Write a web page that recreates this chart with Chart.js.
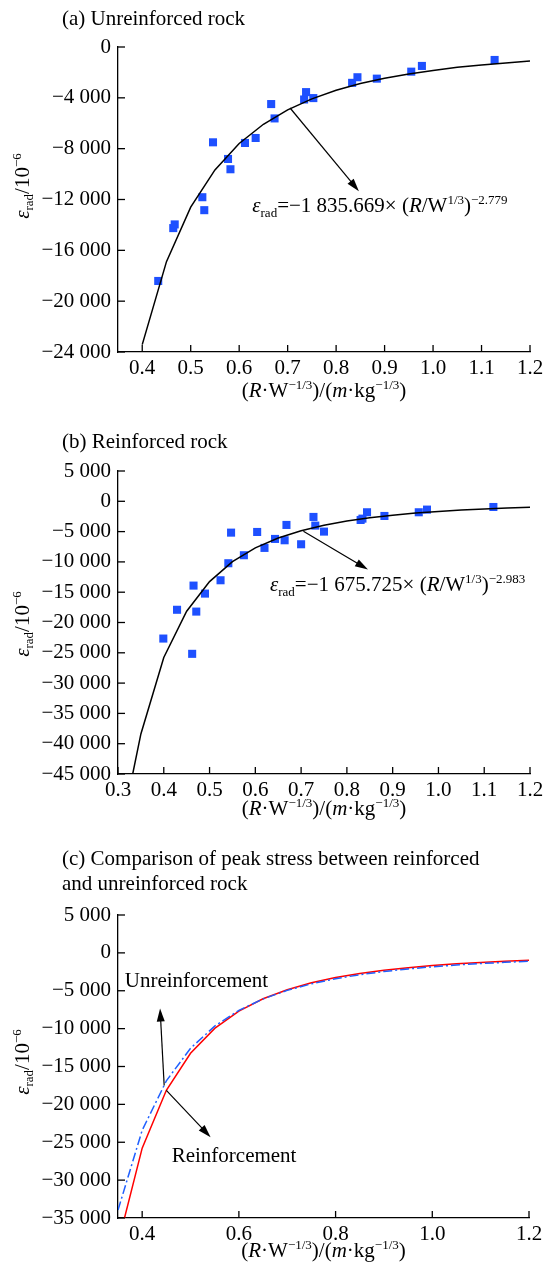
<!DOCTYPE html>
<html>
<head>
<meta charset="utf-8">
<script src="https://cdn.jsdelivr.net/npm/chart.js@4.4.0/dist/chart.umd.min.js"></script>
<style>
body { margin: 0; background: #fff; }
#marco { position: relative; width: 549px; height: 1271px; }
canvas { position: absolute; left: 0; }
</style>
</head>
<body>
<div id="marco">
<canvas id="grafica_a" width="549" height="410" style="top:0px"></canvas>
<canvas id="grafica_b" width="549" height="410" style="top:410px"></canvas>
<canvas id="grafica_c" width="549" height="451" style="top:820px"></canvas>
</div>
<script>
// (a) unreinforced rock, measured points
var sinRefX = [0.433, 0.464, 0.467, 0.524, 0.528, 0.546, 0.577, 0.582, 0.612, 0.634, 0.666, 0.673, 0.734, 0.738, 0.753, 0.833, 0.844, 0.884, 0.955, 0.977, 1.127];
var sinRefY = [-18410, -14250, -13960, -11820, -12840, -7500, -8810, -9620, -7550, -7160, -4490, -5620, -4130, -3550, -4020, -2820, -2380, -2490, -1940, -1490, -1020];
// (a) fitted curve
var ajusteAX = [0.40, 0.45, 0.50, 0.55, 0.60, 0.65, 0.70, 0.75, 0.80, 0.85, 0.90, 0.95, 1.00, 1.05, 1.10, 1.15, 1.20];
var ajusteAY = [-23420, -16890, -12600, -9670, -7590, -6080, -4950, -4080, -3410, -2880, -2460, -2120, -1840, -1600, -1410, -1250, -1110];

// (b) reinforced rock, measured points
var conRefX = [0.399, 0.429, 0.462, 0.465, 0.471, 0.490, 0.524, 0.541, 0.547, 0.575, 0.604, 0.620, 0.643, 0.664, 0.668, 0.700, 0.727, 0.731, 0.750, 0.830, 0.834, 0.844, 0.882, 0.957, 0.975, 1.120];
var conRefY = [-22650, -17900, -25170, -13910, -18200, -15230, -13030, -10220, -5170, -8900, -5060, -7690, -6210, -6430, -3900, -7090, -2580, -4010, -5000, -3080, -2860, -1810, -2420, -1810, -1370, -940];
// (b) fitted curve
var ajusteBX = [0.33, 0.35, 0.40, 0.45, 0.50, 0.55, 0.60, 0.65, 0.70, 0.75, 0.80, 0.85, 0.90, 0.95, 1.00, 1.05, 1.10, 1.15, 1.20];
var ajusteBY = [-45770, -38390, -25780, -18140, -13250, -9970, -7690, -6060, -4860, -3950, -3260, -2720, -2300, -1950, -1680, -1450, -1260, -1110, -970];

// (c) comparison curves
var compX = [0.35, 0.40, 0.45, 0.50, 0.55, 0.60, 0.65, 0.70, 0.75, 0.80, 0.85, 0.90, 0.95, 1.00, 1.05, 1.10, 1.15, 1.20];
var compSinRef = [-33960, -23420, -16890, -12600, -9670, -7590, -6080, -4950, -4080, -3410, -2880, -2460, -2120, -1840, -1600, -1410, -1250, -1110];
var compConRef = [-38390, -25780, -18140, -13250, -9970, -7690, -6060, -4860, -3950, -3260, -2720, -2300, -1950, -1680, -1450, -1260, -1110, -970];

// tick labels
var ticksAX = [0.4, 0.5, 0.6, 0.7, 0.8, 0.9, 1.0, 1.1, 1.2];
var ticksAY = [0, -4000, -8000, -12000, -16000, -20000, -24000];
var ticksBX = [0.3, 0.4, 0.5, 0.6, 0.7, 0.8, 0.9, 1.0, 1.1, 1.2];
var ticksBY = [5000, 0, -5000, -10000, -15000, -20000, -25000, -30000, -35000, -40000, -45000];
var ticksCX = [0.4, 0.6, 0.8, 1.0, 1.2];
var ticksCY = [5000, 0, -5000, -10000, -15000, -20000, -25000, -30000, -35000];

var fuente = '"Liberation Serif", "Times New Roman", serif';
var azul = '#1e50ff';

var tituloX = [['('], ['R', 'i'], ['\u00b7W'], ['\u22121/3', 'sup'], [')/('], ['m', 'i'], ['\u00b7kg'], ['\u22121/3', 'sup'], [')']];
var tituloY = [['\u03b5', 'i'], ['rad', 'sub'], ['/10'], ['\u22126', 'sup']];

function puntos(xs, ys) {
    var res = [];
    for (var i = 0; i < xs.length; i++) {
        res.push({ x: xs[i], y: ys[i] });
    }
    return res;
}

function formato_miles(v) {
    var s = Math.abs(v).toString().replace(/\B(?=(\d{3})+(?!\d))/g, ' ');
    return (v < 0 ? '\u2212' : '') + s;
}

// draws text made of runs: normal, italic, superscript, subscript
function texto_rico(ctx, partes, x, y, size, centrado) {
    var piezas = partes.map(function (p) {
        var estilo = p[1] || '';
        var chico = estilo === 'sup' || estilo === 'sub';
        var f = (estilo === 'i' ? 'italic ' : '') + (chico ? Math.round(size * 0.62) : size) + 'px ' + fuente;
        ctx.font = f;
        return {
            t: p[0], f: f, w: ctx.measureText(p[0]).width,
            dy: estilo === 'sup' ? -size * 0.38 : (estilo === 'sub' ? size * 0.22 : 0)
        };
    });
    var total = 0;
    piezas.forEach(function (p) { total += p.w; });
    var cx = centrado ? x - total / 2 : x;
    ctx.textAlign = 'left';
    ctx.textBaseline = 'alphabetic';
    ctx.fillStyle = '#000';
    piezas.forEach(function (p) {
        ctx.font = p.f;
        ctx.fillText(p.t, cx, y + p.dy);
        cx += p.w;
    });
}

function flecha(ctx, x1, y1, x2, y2) {
    var ang = Math.atan2(y2 - y1, x2 - x1);
    var largo = 13, ancho = 4;
    ctx.beginPath();
    ctx.moveTo(x1, y1);
    ctx.lineTo(x2 - Math.cos(ang) * largo * 0.8, y2 - Math.sin(ang) * largo * 0.8);
    ctx.stroke();
    ctx.beginPath();
    ctx.moveTo(x2, y2);
    ctx.lineTo(x2 - Math.cos(ang) * largo + Math.sin(ang) * ancho, y2 - Math.sin(ang) * largo - Math.cos(ang) * ancho);
    ctx.lineTo(x2 - Math.cos(ang) * largo - Math.sin(ang) * ancho, y2 - Math.sin(ang) * largo + Math.cos(ang) * ancho);
    ctx.closePath();
    ctx.fill();
}

function crear_plugin(cfg) {
    return {
        id: 'extras',
        afterDraw: function (chart) {
            var ctx = chart.ctx;
            var area = chart.chartArea;
            var sx = chart.scales.x, sy = chart.scales.y;
            ctx.save();
            ctx.strokeStyle = '#000';
            ctx.fillStyle = '#000';
            ctx.lineWidth = 1.3;
            // ticks pointing inside
            sx.ticks.forEach(function (t) {
                var px = sx.getPixelForValue(t.value);
                ctx.beginPath();
                ctx.moveTo(px, area.bottom);
                ctx.lineTo(px, area.bottom - 7);
                ctx.stroke();
            });
            sy.ticks.forEach(function (t) {
                var py = sy.getPixelForValue(t.value);
                ctx.beginPath();
                ctx.moveTo(area.left, py);
                ctx.lineTo(area.left + 7, py);
                ctx.stroke();
            });
            cfg.titulo.forEach(function (l) {
                texto_rico(ctx, [[l[0]]], 62, l[1], 21, false);
            });
            texto_rico(ctx, tituloX, (area.left + area.right) / 2, cfg.bajoX, 21, true);
            ctx.save();
            ctx.translate(28.5, cfg.centroY);
            ctx.rotate(-Math.PI / 2);
            texto_rico(ctx, tituloY, 0, 0, 21, true);
            ctx.restore();
            cfg.notas.forEach(function (n) {
                texto_rico(ctx, n.partes, sx.getPixelForValue(n.x), sy.getPixelForValue(n.y), 21, false);
            });
            ctx.lineWidth = 1.2;
            cfg.flechas.forEach(function (f) {
                flecha(ctx, sx.getPixelForValue(f[0]), sy.getPixelForValue(f[1]), sx.getPixelForValue(f[2]), sy.getPixelForValue(f[3]));
            });
            ctx.restore();
        }
    };
}

function crear_panel(id, cfg) {
    var ejeTicks = { color: '#000', font: { family: fuente, size: 21 }, autoSkip: false, maxRotation: 0 };
    return new Chart(document.getElementById(id), {
        type: 'scatter',
        data: { datasets: cfg.datasets },
        options: {
            responsive: false,
            animation: false,
            layout: { padding: { top: cfg.arriba, right: cfg.derecha, left: 0, bottom: 0 } },
            plugins: { legend: { display: false }, tooltip: { enabled: false } },
            scales: {
                x: {
                    type: 'linear', min: cfg.xMin, max: cfg.xMax,
                    afterBuildTicks: function (s) { s.ticks = cfg.ticksX.map(function (v) { return { value: v }; }); },
                    afterFit: function (s) { s.height = cfg.altoX; },
                    grid: { display: false, drawTicks: false },
                    border: { display: true, color: '#000', width: 1.3 },
                    ticks: Object.assign({ padding: 4, callback: function (v) { return v.toFixed(1); } }, ejeTicks)
                },
                y: {
                    type: 'linear', min: cfg.yMin, max: cfg.yMax,
                    afterBuildTicks: function (s) { s.ticks = cfg.ticksY.map(function (v) { return { value: v }; }); },
                    afterFit: function (s) { s.width = 118; },
                    grid: { display: false, drawTicks: false },
                    border: { display: true, color: '#000', width: 1.3 },
                    ticks: Object.assign({ padding: 7, callback: function (v) { return formato_miles(v); } }, ejeTicks)
                }
            }
        },
        plugins: [crear_plugin(cfg)]
    });
}

function curva(xs, ys, color, guiones) {
    return {
        type: 'line', data: puntos(xs, ys), borderColor: color, borderWidth: 1.5,
        borderDash: guiones || [], pointRadius: 0, tension: 0, fill: false, showLine: true
    };
}

function nube(xs, ys) {
    return {
        type: 'scatter', data: puntos(xs, ys), pointStyle: 'rect', pointRadius: 5.7,
        backgroundColor: azul, borderWidth: 0
    };
}

function ecuacion(coef, expo) {
    return [['\u03b5', 'i'], ['rad', 'sub'], ['=\u2212' + coef + '\u00d7 ('], ['R', 'i'], ['/W'], ['1/3', 'sup'], [')'], ['\u2212' + expo, 'sup']];
}

function inicializacion() {
    crear_panel('grafica_a', {
        datasets: [curva(ajusteAX, ajusteAY, '#000'), nube(sinRefX, sinRefY)],
        xMin: 0.35, xMax: 1.2, yMin: -24000, yMax: 0,
        ticksX: ticksAX, ticksY: ticksAY,
        arriba: 47, derecha: 19, altoX: 58,
        titulo: [['(a) Unreinforced rock', 25]],
        bajoX: 397, centroY: 186,
        notas: [{ x: 0.627, y: -13020, partes: ecuacion('1 835.669', '2.779') }],
        flechas: [[0.705, -4800, 0.847, -11350]]
    });
    crear_panel('grafica_b', {
        datasets: [curva(ajusteBX, ajusteBY, '#000'), nube(conRefX, conRefY)],
        xMin: 0.3, xMax: 1.2, yMin: -45000, yMax: 5000,
        ticksX: ticksBX, ticksY: ticksBY,
        arriba: 61, derecha: 19, altoX: 46,
        titulo: [['(b) Reinforced rock', 38]],
        bajoX: 405, centroY: 214,
        notas: [{ x: 0.632, y: -14840, partes: ecuacion('1 675.725', '2.983') }],
        flechas: [[0.705, -4950, 0.846, -11260]]
    });
    crear_panel('grafica_c', {
        datasets: [curva(compX, compSinRef, '#1f5fff', [9, 3, 2, 3]), curva(compX, compConRef, '#ff0000')],
        xMin: 0.35, xMax: 1.2, yMin: -35000, yMax: 5000,
        ticksX: ticksCX, ticksY: ticksCY,
        arriba: 95, derecha: 20, altoX: 53,
        titulo: [['(c) Comparison of peak stress between reinforced', 45], ['and unreinforced rock', 70]],
        bajoX: 437, centroY: 242,
        notas: [
            { x: 0.364, y: -4500, partes: [['Unreinforcement']] },
            { x: 0.461, y: -27640, partes: [['Reinforcement']] }
        ],
        flechas: [[0.4455, -17500, 0.437, -7355], [0.45, -18160, 0.5415, -24340]]
    });
}

inicializacion();
</script>
</body>
</html>
